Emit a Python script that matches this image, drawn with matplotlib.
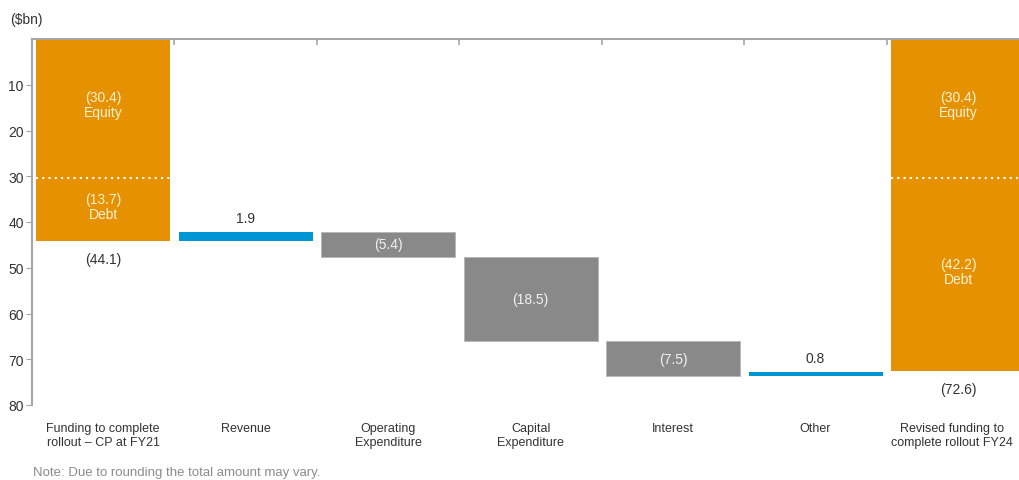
import matplotlib.pyplot as plt
import matplotlib.transforms as mtransforms
import numpy as np

plt.rcParams['font.family'] = ['Liberation Sans', 'DejaVu Sans']

categories = ['Funding to complete\nrollout \u2013 CP at FY21', 'Revenue', 'Operating\nExpenditure',
              'Capital\nExpenditure', 'Interest', 'Other', 'Revised funding to\ncomplete rollout FY24']
start_equity = 30.4
start_debt = 13.7
start_total = 44.1
changes = [1.9, -5.4, -18.5, -7.5, 0.8]
change_labels = ['1.9', '(5.4)', '(18.5)', '(7.5)', '0.8']
end_equity = 30.4
end_debt = 42.2
end_total = 72.6

orange = '#E69100'
grey = '#898989'
blue = '#0096D6'
cream = '#FFF2D9'
dark = '#333333'

fig = plt.figure(figsize=(10.2, 4.81), dpi=100)
ax = fig.add_axes([32 / 1020, 1 - 406 / 481, 1 - 32 / 1020, (406 - 40) / 481])

w = 0.94
x = np.arange(len(categories))

# opening and closing funding, stacked equity + debt (axis runs downward)
for xi, eq, debt, total in [(0, start_equity, start_debt, start_total), (6, end_equity, end_debt, end_total)]:
    ax.bar(xi, eq, bottom=0, width=w, color=orange)
    ax.bar(xi, total - eq, bottom=eq, width=w, color=orange)
    ax.plot([xi - w / 2, xi + w / 2], [eq, eq], color='white', ls=(0, (1, 2)), lw=1.5)
    ax.text(xi, eq / 2 - 0.8, '(%.1f)\nEquity' % eq, ha='center', va='center', color=cream,
            fontsize=10, linespacing=1.1)
    ax.text(xi, eq + (total - eq) / 2 - 0.6, '(%.1f)\nDebt' % debt, ha='center', va='center',
            color=cream, fontsize=10, linespacing=1.1)
    ax.text(xi, total + 2.4, '(%.1f)' % total, ha='center', va='top', color=dark, fontsize=10)

# movements between the two
level = start_total
for i, (c, lab) in enumerate(zip(changes, change_labels)):
    new = level - c
    lo, hi = min(level, new), max(level, new)
    xi = i + 1
    if c > 0:
        ax.bar(xi, hi - lo, bottom=lo, width=w, color=blue)
        ax.text(xi, lo - 1.5, lab, ha='center', va='bottom', color=dark, fontsize=10)
    else:
        ax.bar(xi, hi - lo, bottom=lo, width=w, color=grey, edgecolor='#b5b5b5', lw=0.6)
        ax.text(xi, (lo + hi) / 2, lab, ha='center', va='center', color='#f2f2f2', fontsize=10)
    level = new

ax.set_ylim(80, 0)
ax.set_xlim(-0.5, 6.435)
ax.set_yticks(np.arange(10, 81, 10))
ax.tick_params(axis='y', length=4, color='#a6a6a6', labelsize=10, labelcolor=dark, pad=2)

ax.set_xticks(x)
ax.set_xticklabels(categories, fontsize=9, color=dark, linespacing=1.25)
ax.tick_params(axis='x', which='major', length=0, pad=12)
ax.set_xticks(np.arange(0.5, 6, 1), minor=True)
ax.tick_params(axis='x', which='minor', top=True, bottom=False, direction='in', length=4,
               color='#a6a6a6', width=1.2)

# nudge the last label in so it stays inside the figure
last = ax.get_xticklabels()[-1]
last.set_transform(last.get_transform() + mtransforms.ScaledTranslation(-6 / 100, 0, fig.dpi_scale_trans))

for s in ['right', 'bottom']:
    ax.spines[s].set_visible(False)
for s in ['left', 'top']:
    ax.spines[s].set_color('#a6a6a6')
    ax.spines[s].set_linewidth(1.5)

fig.text(10 / 1020, 1 - 20 / 481, '($bn)', ha='left', va='center', fontsize=10, color=dark)
fig.text(33 / 1020, 1.5 / 481, 'Note: Due to rounding the total amount may vary.',
         ha='left', va='bottom', fontsize=9.5, color='#8c8c8c')

fig.savefig('out.png', dpi=100)
